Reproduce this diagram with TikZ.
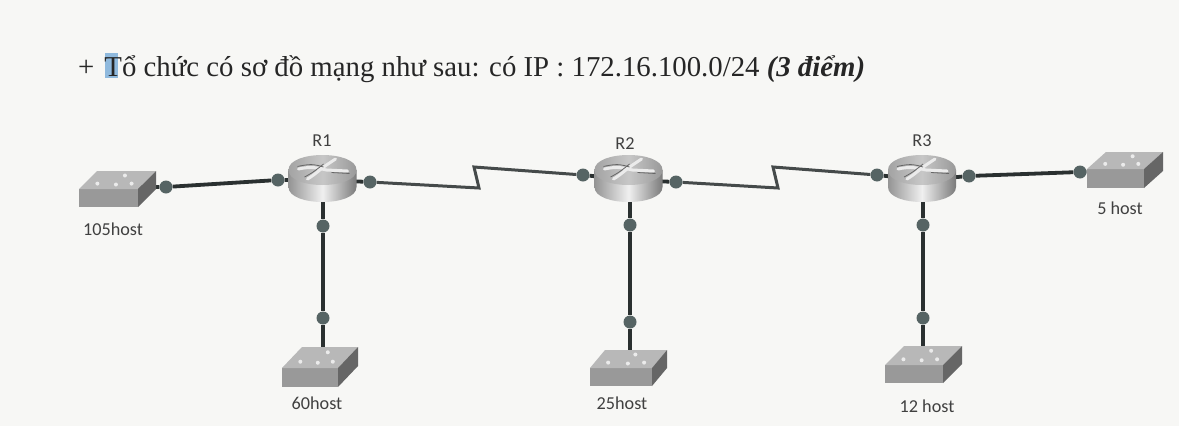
\documentclass[tikz,border=0pt]{standalone}
\usepackage{fontspec}
\setmainfont{Liberation Serif}
\newfontfamily\labfont{Carlito}
\usetikzlibrary{backgrounds}
\definecolor{paper}{HTML}{F7F7F5}
\definecolor{wire}{HTML}{2A3030}
\definecolor{serial}{HTML}{454A4A}
\definecolor{dotc}{HTML}{566464}
\definecolor{hilite}{HTML}{8FB9DD}
\tikzset{
  anchorpt/.style={inner sep=0pt,minimum size=0pt},
  portdot/.style={circle,fill=dotc,inner sep=0pt,minimum size=13pt},
  lan/.style={draw=wire,line width=3.8pt},
  wan/.style={draw=serial,line width=3pt,line join=miter},
  devlabel/.style={font=\labfont\fontsize{18.2}{21}\selectfont,text=black!75,inner sep=0pt},
  title/.style={font=\fontsize{28.8}{33}\selectfont,text=black!85,anchor=base west,inner sep=0pt}
}
% router art: #1 = x, #2 = y of the body centre
\newcommand{\routerart}[2]{%
  \begin{scope}[shift={(#1,#2)}]
    \path[left color=black!42,right color=black!52,middle color=black!6]
      (-34,-9) -- (-34,8) .. controls (-34,28) and (34,28) .. (34,8) -- (34,-9) -- cycle;
    \path[left color=black!36,right color=black!40,middle color=black!22]
      (-34,-9) .. controls (-34,-29) and (34,-29) .. (34,-9)
      .. controls (34,11) and (-34,11) .. (-34,-9) -- cycle;
    \draw[white!92!black,line width=3pt,line cap=round] (-24,-10) .. controls (-10,-13) and (-6,-11) .. (4,-9) -- (25,-8);
    \draw[white!92!black,line width=3pt,line cap=round] (-15,0) .. controls (-8,-4) and (-2,-10) .. (4,-14) -- (13,-20);
    \draw[black!60,line width=.8pt] (-25,-12.5) .. controls (-10,-16) and (-6,-14) .. (1,-12);
    \draw[black!60,line width=.8pt] (-18,-2) .. controls (-10,-6) and (-5,-10) .. (1,-15);
    \draw[black!60,line width=.8pt] (9,-6.5) -- (27,-5.5);
  \end{scope}}
% switch art: #1,#2 = front top left; #3 = width; #4 = height; #5,#6 = depth
\newcommand{\switchart}[6]{%
  \begin{scope}[shift={(#1,#2)}]
    \fill[black!40] (0,0) rectangle (#3,#4);
    \fill[black!28] (0,0) -- (#3,0) -- ++(#5,-#6) -- ++(-#3,0) -- cycle;
    \fill[black!60] (#3,0) -- (#3,#4) -- ++(#5,-#6) -- ++(0,-#4) -- cycle;
    \foreach \a/\b in {.22/.3,.55/.75,.8/.3,.55/.25}
      \fill[white!92!black] ({#3*\a+#5*\b},{-#6*\b}) circle (2pt);
  \end{scope}}
\begin{document}
\begin{tikzpicture}[x=1pt,y=-1pt]
  \useasboundingbox (0,0) rectangle (1179,426);
  \begin{scope}[on background layer]
    \fill[paper] (0,0) rectangle (1179,426);
    \fill[hilite] (105,53) rectangle (118,78);
  \end{scope}

  \node[title] (headline) at (78,76.5) {+\hspace{10pt}Tổ chức có sơ đồ mạng như sau: có IP : 172.16.100.0/24 \textbf{\textit{(3 điểm)}}};

  % device anchors
  \node[anchorpt] (R1) at (323,180) {};
  \node[anchorpt] (R2) at (630,180) {};
  \node[anchorpt] (R3) at (923,180) {};
  \node[anchorpt] (swA) at (120,187) {};
  \node[anchorpt] (swB) at (323,358) {};
  \node[anchorpt] (swC) at (630,358) {};
  \node[anchorpt] (swD) at (923,356) {};
  \node[anchorpt] (swE) at (1120,171) {};

  % interface dots
  \node[portdot] (a1) at (166,187) {};
  \node[portdot] (a2) at (278,180) {};
  \node[portdot] (b1) at (370,182) {};
  \node[portdot] (b2) at (583,175) {};
  \node[portdot] (c1) at (676,182) {};
  \node[portdot] (c2) at (877,175) {};
  \node[portdot] (e1) at (969,176) {};
  \node[portdot] (e2) at (1080,172) {};
  \node[portdot] (v1) at (323,226) {};
  \node[portdot] (v2) at (323,318) {};
  \node[portdot] (v3) at (630,225) {};
  \node[portdot] (v4) at (630,322) {};
  \node[portdot] (v5) at (923,225) {};
  \node[portdot] (v6) at (923,318) {};

  % serial bends
  \coordinate (z1) at (479,188);
  \coordinate (z2) at (474,167);
  \coordinate (z3) at (778,188);
  \coordinate (z4) at (773,167);

  \begin{scope}[on background layer]
    \draw[lan] (swA) -- (a1) -- (a2) -- (R1);
    \draw[lan] (R1) -- (b1);
    \draw[wan] (b1) -- (z1) -- (z2) -- (b2);
    \draw[lan] (b2) -- (R2);
    \draw[lan] (R2) -- (c1);
    \draw[wan] (c1) -- (z3) -- (z4) -- (c2);
    \draw[lan] (c2) -- (R3);
    \draw[lan] (R3) -- (e1) -- (e2) -- (swE);
    \draw[lan] (R1) -- (v1) -- (v2) -- (swB);
    \draw[lan] (R2) -- (v3) -- (v4) -- (swC);
    \draw[lan] (R3) -- (v5) -- (v6) -- (swD);
  \end{scope}

  % artwork
  \routerart{322.5}{179}
  \routerart{628.5}{179}
  \routerart{922}{179}
  \switchart{79}{189}{59}{18}{18}{18}
  \switchart{282}{368}{56}{19}{20}{21}
  \switchart{590}{368}{62}{18}{15}{18}
  \switchart{885}{365}{58}{18}{19}{19}
  \switchart{1087}{169}{57}{19}{19}{17}

  % labels
  \node[devlabel] (lR1) at (322,141) {R1};
  \node[devlabel] (lR2) at (625,144) {R2};
  \node[devlabel] (lR3) at (922,141) {R3};
  \node[devlabel] (l105) at (113,229) {105host};
  \node[devlabel] (l60) at (317,403) {60host};
  \node[devlabel] (l25) at (622,403) {25host};
  \node[devlabel] (l12) at (927,406) {12 host};
  \node[devlabel] (l5) at (1120,208) {5 host};
\end{tikzpicture}
\end{document}
